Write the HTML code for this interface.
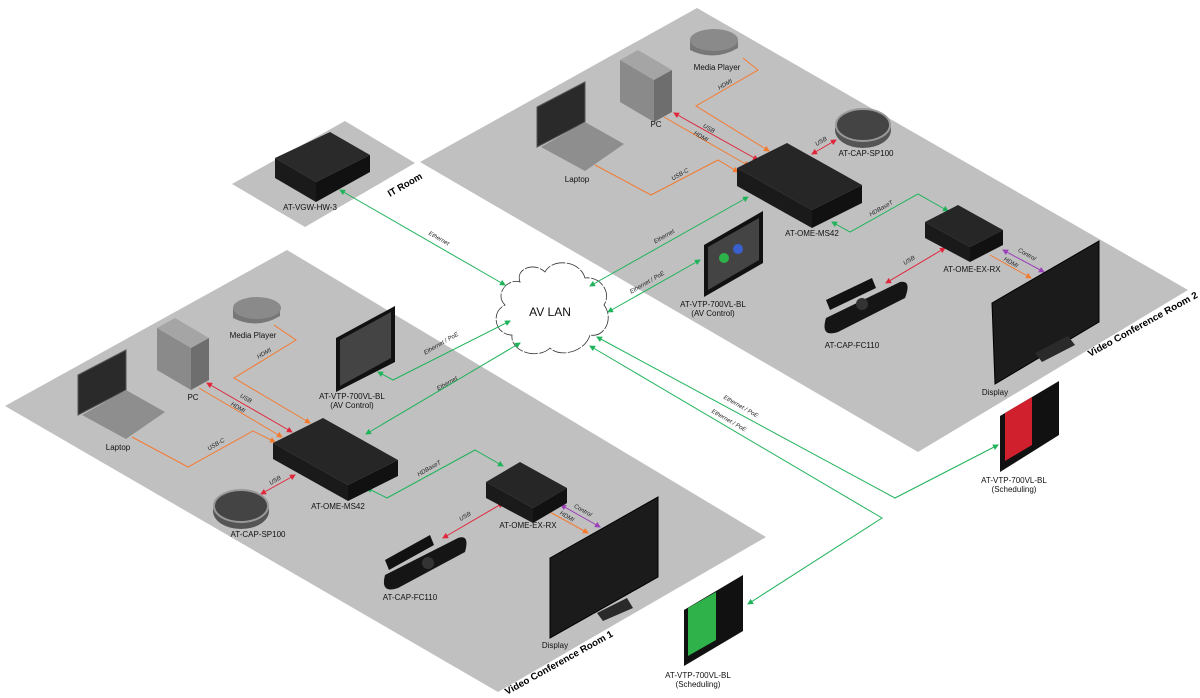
<!DOCTYPE html>
<html><head><meta charset="utf-8"><style>
html,body{margin:0;padding:0;background:#fff;}
svg{display:block;font-family:"Liberation Sans",sans-serif;}
.l{font-size:8px;fill:#111;text-anchor:middle;}
.c{font-size:6px;fill:#222;font-style:italic;text-anchor:middle;}
.r{font-size:9.5px;font-weight:bold;fill:#000;}
.g{stroke:#1fb35a;stroke-width:1;fill:none;}
.o{stroke:#f47a30;stroke-width:1;fill:none;}
.rd{stroke:#e0263a;stroke-width:1;fill:none;}
.p{stroke:#9b3fb8;stroke-width:1;fill:none;}
</style></head><body>
<svg width="1200" height="698" viewBox="0 0 1200 698" xmlns="http://www.w3.org/2000/svg">
<defs>
<marker id="ag" markerWidth="6" markerHeight="6" refX="5" refY="3" orient="auto-start-reverse" markerUnits="userSpaceOnUse"><path d="M0,0 L6,3 L0,6 z" fill="#1fb35a"/></marker>
<marker id="ao" markerWidth="6" markerHeight="6" refX="5" refY="3" orient="auto-start-reverse" markerUnits="userSpaceOnUse"><path d="M0,0 L6,3 L0,6 z" fill="#f47a30"/></marker>
<marker id="ar" markerWidth="6" markerHeight="6" refX="5" refY="3" orient="auto-start-reverse" markerUnits="userSpaceOnUse"><path d="M0,0 L6,3 L0,6 z" fill="#e0263a"/></marker>
<marker id="ap" markerWidth="6" markerHeight="6" refX="5" refY="3" orient="auto-start-reverse" markerUnits="userSpaceOnUse"><path d="M0,0 L6,3 L0,6 z" fill="#9b3fb8"/></marker>
</defs>

<!-- rooms -->
<polygon points="697,8 1188,290 918,452 420,162" fill="#c0c0c0"/>
<polygon points="287,250 766,537 498,692 5,406" fill="#c0c0c0"/>
<polygon points="345,121 415,163 305,227 232,184" fill="#c0c0c0"/>

<text class="r" transform="translate(390,197) rotate(-30)">IT Room</text>
<text class="r" textLength="124" lengthAdjust="spacingAndGlyphs" transform="translate(1090,357) rotate(-29)">Video Conference Room 2</text>
<text class="r" textLength="122" lengthAdjust="spacingAndGlyphs" transform="translate(507,695) rotate(-29)">Video Conference Room 1</text>

<!-- cloud -->
<path d="M520,282 C515,268 535,262 545,272 C552,258 580,260 585,278 C600,276 612,292 604,305 C614,318 605,338 590,335 C585,352 560,358 550,348 C538,360 510,352 512,335 C495,335 490,312 505,305 C494,294 508,278 520,282 Z" fill="#fff" stroke="#333" stroke-width="0.8" stroke-dasharray="14,1.5"/>
<text x="550" y="316" font-size="12" text-anchor="middle" fill="#111">AV LAN</text>

<!-- green network lines -->
<line class="g" x1="340" y1="190" x2="505" y2="285" marker-start="url(#ag)" marker-end="url(#ag)"/>
<text class="c" transform="translate(438,240) rotate(30)">Ethernet</text>
<line class="g" x1="748" y1="197" x2="590" y2="286" marker-start="url(#ag)" marker-end="url(#ag)"/>
<text class="c" transform="translate(665,238) rotate(-30)">Ethernet</text>
<line class="g" x1="700" y1="260" x2="608" y2="312" marker-start="url(#ag)" marker-end="url(#ag)"/>
<text class="c" transform="translate(648,284) rotate(-30)">Ethernet / PoE</text>
<polyline class="g" points="510,321 393,380 378,372" marker-start="url(#ag)" marker-end="url(#ag)"/>
<text class="c" transform="translate(442,345) rotate(-30)">Ethernet / PoE</text>
<line class="g" x1="520" y1="343" x2="366" y2="434" marker-start="url(#ag)" marker-end="url(#ag)"/>
<text class="c" transform="translate(448,385) rotate(-30)">Ethernet</text>
<polyline class="g" points="597,337 895,498 998,445" marker-start="url(#ag)" marker-end="url(#ag)"/>
<text class="c" transform="translate(740,408) rotate(30)">Ethernet / PoE</text>
<polyline class="g" points="590,346 882,518 748,604" marker-start="url(#ag)" marker-end="url(#ag)"/>
<text class="c" transform="translate(728,422) rotate(30)">Ethernet / PoE</text>
<polyline class="g" points="832,222 850,232 918,194 948,211" marker-start="url(#ag)" marker-end="url(#ag)"/>
<text class="c" transform="translate(882,210) rotate(-30)">HDBaseT</text>
<polyline class="g" points="367,488 387,498 475,450 503,466" marker-start="url(#ag)" marker-end="url(#ag)"/>
<text class="c" transform="translate(430,470) rotate(-30)">HDBaseT</text>

<!-- room2 cables -->
<polyline class="o" points="743,58 758,70 696,106 769,151" marker-end="url(#ao)"/>
<text class="c" transform="translate(726,86) rotate(-30)">HDMI</text>
<line class="o" x1="664" y1="117" x2="749" y2="166" marker-end="url(#ao)"/>
<line class="rd" x1="674" y1="113" x2="758" y2="160" marker-start="url(#ar)" marker-end="url(#ar)"/>
<text class="c" transform="translate(708,130) rotate(30)">USB</text>
<text class="c" transform="translate(700,138) rotate(30)">HDMI</text>
<polyline class="o" points="595,165 651,195 718,160 738,172" marker-end="url(#ao)"/>
<text class="c" transform="translate(681,176) rotate(-30)">USB-C</text>
<line class="rd" x1="812" y1="154" x2="836" y2="140" marker-start="url(#ar)" marker-end="url(#ar)"/>
<text class="c" transform="translate(822,143) rotate(-30)">USB</text>
<line class="rd" x1="945" y1="248" x2="886" y2="283" marker-start="url(#ar)" marker-end="url(#ar)"/>
<text class="c" transform="translate(910,262) rotate(-30)">USB</text>
<line class="o" x1="990" y1="255" x2="1031" y2="278" marker-end="url(#ao)"/>
<line class="p" x1="1003" y1="250" x2="1044" y2="272" marker-start="url(#ap)" marker-end="url(#ap)"/>
<text class="c" transform="translate(1010,264) rotate(30)">HDMI</text>
<text class="c" transform="translate(1026,256) rotate(30)">Control</text>

<!-- room1 cables -->
<polyline class="o" points="274,325 296,340 234,378 310,423" marker-end="url(#ao)"/>
<text class="c" transform="translate(265,355) rotate(-30)">HDMI</text>
<line class="rd" x1="207" y1="383" x2="292" y2="432" marker-start="url(#ar)" marker-end="url(#ar)"/>
<line class="o" x1="199" y1="388" x2="282" y2="437" marker-end="url(#ao)"/>
<text class="c" transform="translate(245,400) rotate(30)">USB</text>
<text class="c" transform="translate(237,409) rotate(30)">HDMI</text>
<polyline class="o" points="132,437 188,467 253,431 275,442" marker-end="url(#ao)"/>
<text class="c" transform="translate(217,446) rotate(-30)">USB-C</text>
<line class="rd" x1="261" y1="494" x2="295" y2="475" marker-start="url(#ar)" marker-end="url(#ar)"/>
<text class="c" transform="translate(276,482) rotate(-30)">USB</text>
<line class="rd" x1="443" y1="538" x2="503" y2="503" marker-start="url(#ar)" marker-end="url(#ar)"/>
<text class="c" transform="translate(466,518) rotate(-30)">USB</text>
<line class="o" x1="548" y1="511" x2="588" y2="533" marker-end="url(#ao)"/>
<line class="p" x1="561" y1="505" x2="600" y2="527" marker-start="url(#ap)" marker-end="url(#ap)"/>
<text class="c" transform="translate(566,518) rotate(30)">HDMI</text>
<text class="c" transform="translate(582,512) rotate(30)">Control</text>

<!-- IT device -->
<polygon points="275,158 330,132 370,155 316,182" fill="#2a2a2a"/>
<polygon points="275,158 316,182 316,202 275,178" fill="#1a1a1a"/>
<polygon points="316,182 370,155 370,172 316,202" fill="#111"/>
<text class="l" x="310" y="210">AT-VGW-HW-3</text>

<!-- Room2 devices -->
<path d="M690,40 Q712,28 738,40 L738,48 Q714,62 690,50 Z" fill="#777"/>
<ellipse cx="714" cy="40" rx="24" ry="11" fill="#8a8a8a"/>
<text class="l" x="717" y="70">Media Player</text>
<polygon points="620,60 638,50 672,70 654,80" fill="#a5a5a5"/>
<polygon points="620,60 654,80 654,122 620,102" fill="#8a8a8a"/>
<polygon points="654,80 672,70 672,112 654,122" fill="#6e6e6e"/>
<text class="l" x="656" y="127">PC</text>
<polygon points="537,107 585,82 585,122 537,147" fill="#2a2a2a" stroke="#555" stroke-width="1"/>
<polygon points="541,147 585,122 624,144 585,171" fill="#8e8e8e"/>
<text class="l" x="577" y="182">Laptop</text>
<ellipse cx="863" cy="130" rx="28" ry="18" fill="#555"/>
<ellipse cx="863" cy="125" rx="27" ry="16" fill="#444" stroke="#999" stroke-width="2"/>
<text class="l" x="866" y="156">AT-CAP-SP100</text>
<polygon points="737,168 787,143 862,185 812,210" fill="#262626"/>
<polygon points="737,168 812,210 812,228 737,186" fill="#1a1a1a"/>
<polygon points="812,210 862,185 862,203 812,228" fill="#111"/>
<text class="l" x="812" y="236">AT-OME-MS42</text>
<polygon points="925,222 958,205 1003,230 970,247" fill="#262626"/>
<polygon points="925,222 970,247 970,262 925,238" fill="#1a1a1a"/>
<polygon points="970,247 1003,230 1003,245 970,262" fill="#111"/>
<text class="l" x="972" y="272">AT-OME-EX-RX</text>
<polygon points="704,245 763,211 763,263 704,297" fill="#111"/>
<polygon points="708,247 759,218 759,260 708,290" fill="#444"/>
<circle cx="724" cy="258" r="5" fill="#2db34a"/>
<circle cx="738" cy="249" r="5" fill="#3a5fcf"/>
<text class="l" x="713" y="307">AT-VTP-700VL-BL</text>
<text class="l" x="713" y="316">(AV Control)</text>
<polygon points="826,300 872,278 876,288 830,310" fill="#111"/>
<path d="M826,318 L900,282 Q912,280 905,298 L838,332 Q820,338 826,318 Z" fill="#151515"/>
<circle cx="862" cy="304" r="6" fill="#333"/>
<text class="l" x="852" y="348">AT-CAP-FC110</text>
<polygon points="992,303 1099,241 1099,322 995,384" fill="#1b1b1b" stroke="#000"/>
<polygon points="1035,353 1068,336 1075,345 1042,362" fill="#2a2a2a"/>
<text class="l" x="995" y="395">Display</text>

<!-- scheduling panels -->
<polygon points="1000,416 1059,381 1059,435 1000,472" fill="#111"/>
<polygon points="1005,413 1032,397 1032,445 1005,461" fill="#d0202e"/>
<text class="l" x="1014" y="483">AT-VTP-700VL-BL</text>
<text class="l" x="1014" y="492">(Scheduling)</text>
<polygon points="684,610 743,575 743,631 684,666" fill="#111"/>
<polygon points="688,608 716,592 716,640 688,656" fill="#30b24a"/>
<text class="l" x="698" y="678">AT-VTP-700VL-BL</text>
<text class="l" x="698" y="687">(Scheduling)</text>

<!-- Room1 devices -->
<path d="M233,308 Q256,296 280,308 L280,316 Q257,330 233,318 Z" fill="#777"/>
<ellipse cx="257" cy="308" rx="24" ry="11" fill="#8a8a8a"/>
<text class="l" x="253" y="338">Media Player</text>
<polygon points="157,328 175,318 209,338 191,348" fill="#a5a5a5"/>
<polygon points="157,328 191,348 191,390 157,370" fill="#8a8a8a"/>
<polygon points="191,348 209,338 209,380 191,390" fill="#6e6e6e"/>
<text class="l" x="193" y="400">PC</text>
<polygon points="78,375 126,350 126,390 78,415" fill="#2a2a2a" stroke="#555" stroke-width="1"/>
<polygon points="82,415 126,390 165,412 126,439" fill="#8e8e8e"/>
<text class="l" x="118" y="450">Laptop</text>
<polygon points="336,338 395,306 395,362 336,392" fill="#111"/>
<polygon points="340,340 391,312 391,358 340,386" fill="#444"/>
<text class="l" x="352" y="399">AT-VTP-700VL-BL</text>
<text class="l" x="352" y="408">(AV Control)</text>
<polygon points="273,443 323,418 398,460 348,485" fill="#262626"/>
<polygon points="273,443 348,485 348,501 273,459" fill="#1a1a1a"/>
<polygon points="348,485 398,460 398,476 348,501" fill="#111"/>
<text class="l" x="338" y="509">AT-OME-MS42</text>
<ellipse cx="241" cy="511" rx="28" ry="18" fill="#555"/>
<ellipse cx="241" cy="506" rx="27" ry="16" fill="#444" stroke="#999" stroke-width="2"/>
<text class="l" x="258" y="537">AT-CAP-SP100</text>
<polygon points="486,482 520,462 567,488 533,508" fill="#262626"/>
<polygon points="486,482 533,508 533,523 486,498" fill="#1a1a1a"/>
<polygon points="533,508 567,488 567,503 533,523" fill="#111"/>
<text class="l" x="528" y="528">AT-OME-EX-RX</text>
<polygon points="385,560 430,535 434,545 389,570" fill="#111"/>
<path d="M385,575 L458,538 Q470,534 465,552 L398,588 Q380,594 385,575 Z" fill="#151515"/>
<circle cx="428" cy="563" r="6" fill="#333"/>
<text class="l" x="410" y="600">AT-CAP-FC110</text>
<polygon points="550,558 658,497 658,577 550,638" fill="#1b1b1b" stroke="#000"/>
<polygon points="597,613 627,598 633,608 603,621" fill="#2a2a2a"/>
<text class="l" x="555" y="648">Display</text>
</svg>
</body></html>
